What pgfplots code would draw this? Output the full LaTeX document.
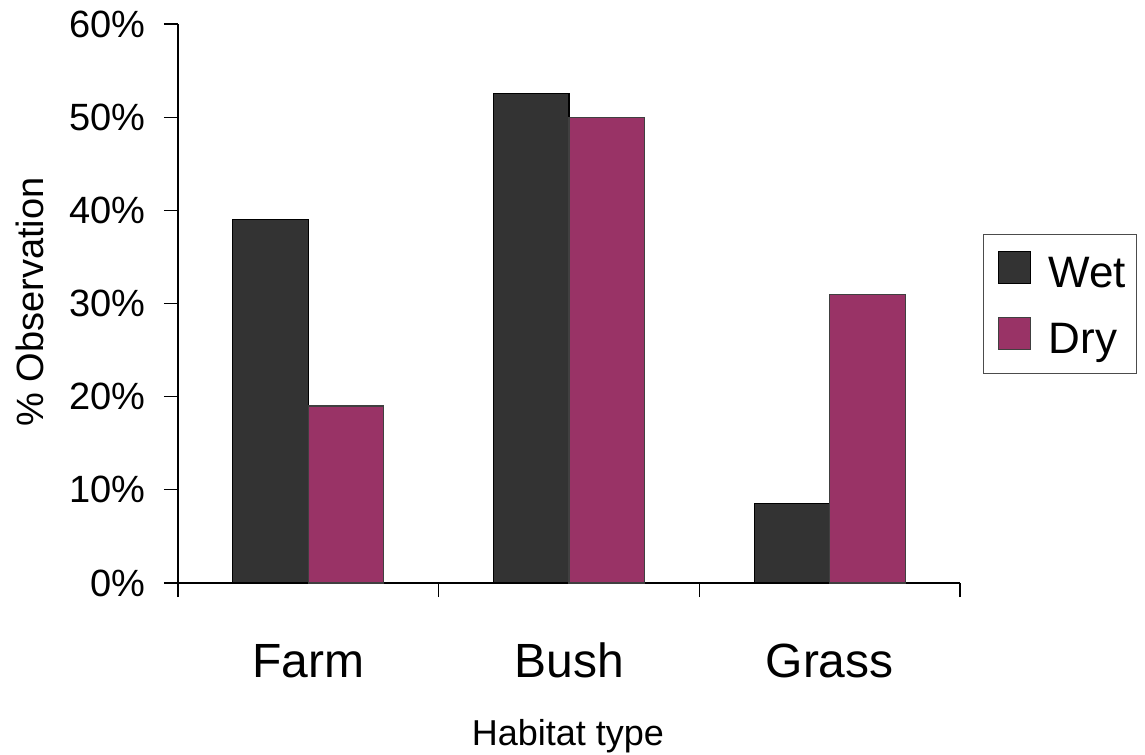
\documentclass[border=0pt]{standalone}
\usepackage{pgfplots}
\pgfplotsset{compat=1.18}
\usepackage{fontspec}
\setmainfont{Liberation Sans}
\definecolor{wetc}{HTML}{333333}
\definecolor{dryc}{HTML}{993366}
\begin{document}
\begin{tikzpicture}
\begin{axis}[
  at={(133.5pt,-437.25pt)}, anchor=south west,
  scale only axis,
  width=586.5pt, height=419.25pt,
  xmin=-0.5, xmax=2.5, ymin=0, ymax=60,
  axis x line*=bottom, axis y line*=left,
  axis line style={black, line width=0.9pt},
  tick align=outside,
  major tick length=10.5pt,
  ytick={0,10,...,60},
  yticklabels={0\%,10\%,20\%,30\%,40\%,50\%,60\%},
  yticklabel style={font=\fontsize{28.5}{28.5}\selectfont, inner sep=0pt, xshift=-13.5pt},
  ytick style={black, line width=0.9pt},
  xtick={-0.5,0.5,1.5,2.5},
  xticklabels={},
  xtick style={black, line width=0.9pt},
  extra x ticks={0,1,2},
  extra x tick labels={Farm,Bush,Grass},
  extra x tick style={major tick length=0pt, tick style={draw=none},
     xticklabel style={font=\fontsize{36}{36}\selectfont, anchor=base, inner sep=0pt, yshift=-70.5pt}},
  ylabel={\% Observation},
  ylabel style={font=\fontsize{28.5}{28.5}\selectfont, at={(axis description cs:-0.1726,0.5027)}, anchor=base, inner sep=0pt},
  xlabel={Habitat type},
  xlabel style={font=\fontsize{27}{27}\selectfont, at={(axis description cs:0.4987,0)}, anchor=base, inner sep=0pt, yshift=-121.5pt},
  bar width=0.29,
  legend style={at={(1.0294,0.6243)}, anchor=north west, draw=black!70, line width=0.6pt,
     font=\fontsize{33}{33}\selectfont, inner xsep=6pt, inner ysep=6pt, row sep=7pt,
     nodes={text height=31.75pt, text depth=7pt},
     cells={anchor=west}},
  legend image code/.code={%
     \path[draw=none, fill=none] (0pt,0pt) -- (41pt,0pt);
     \draw[#1, line width=0.8pt] (5pt,-9.25pt) rectangle (29pt,14.75pt);},
]
\addplot[ybar, bar shift=-0.145, fill=wetc, draw=black, line width=0.8pt] coordinates {(0,39) (1,52.5) (2,8.5)};
\addlegendentry{Wet}
\addplot[ybar, bar shift=0.145, fill=dryc, draw=black!75, line width=0.8pt] coordinates {(0,19) (1,50) (2,31)};
\addlegendentry{Dry}
\end{axis}
\pgfresetboundingbox
\path (0pt,0pt) rectangle (858.75pt,-565.5pt);
\end{tikzpicture}
\end{document}
